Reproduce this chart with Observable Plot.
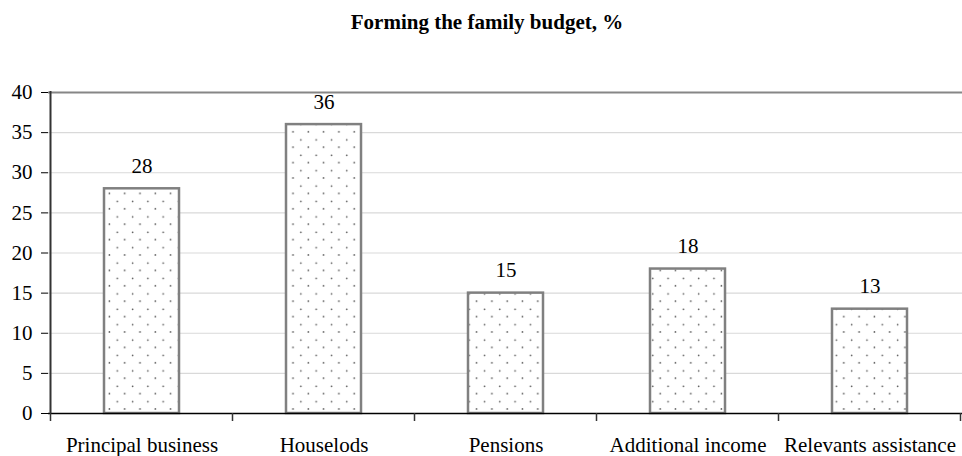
<!DOCTYPE html>
<html><head><meta charset="utf-8">
<script src="https://cdn.jsdelivr.net/npm/d3@7"></script>
<script src="https://cdn.jsdelivr.net/npm/@observablehq/plot@0.6"></script>
<style>
body{margin:0;background:#fff;}
#title{box-sizing:border-box;height:55px;padding-top:12px;padding-left:12px;width:962px;font-family:"Times New Roman","Liberation Serif",Times,serif;font-weight:bold;font-size:21px;line-height:21px;text-align:center;color:#000;}
#chart svg{display:block;}
#chart svg text{font-family:"Times New Roman","Liberation Serif",Times,serif;}
</style></head><body>
<div id="title">Forming the family budget, %</div>
<div id="chart"></div>
<script>
const categories = ["Principal business", "Houselods", "Pensions", "Additional income", "Relevants assistance"];
const values = [28, 36, 15, 18, 13];
const yTicks = [0, 5, 10, 15, 20, 25, 30, 35, 40];

const data = categories.map((c, i) => ({category: c, value: values[i]}));

const plot = Plot.plot({
  width: 962, height: 401,
  marginTop: 37, marginBottom: 43, marginLeft: 48, marginRight: 0,
  style: {fontFamily: '"Times New Roman", "Liberation Serif", Times, serif', fontSize: "21px", color: "#000", background: "#fff", overflow: "visible"},
  x: {domain: categories, paddingInner: 0.59, paddingOuter: 0.295, label: null, tickSize: 0, tickPadding: 24},
  y: {domain: [0, 40], ticks: yTicks, tickSize: 7, tickPadding: 9, label: null},
  marks: [
    Plot.ruleY(yTicks.filter(t => t > 0 && t < 40), {stroke: "#d9d9d9", strokeWidth: 1.2}),
    Plot.ruleY([40], {stroke: "#868686", strokeWidth: 2}),
    Plot.barY(data, {x: "category", y: "value", fill: "url(#dots)", stroke: "#808080", strokeWidth: 2.5}),
    Plot.text(data, {x: "category", y: "value", text: d => String(d.value), lineAnchor: "bottom", dy: -16, fontSize: 21, fill: "#000"}),
    Plot.ruleY([0], {stroke: "#000", strokeWidth: 1.5})
  ]
});

const svg = d3.select(plot);
svg.selectAll("g[aria-label$='axis'], g[aria-label$='tick label']").attr("font-size", 21);
const defs = svg.insert("defs", ":first-child");
const pat = defs.append("pattern").attr("id", "dots").attr("patternUnits", "userSpaceOnUse")
  .attr("x", 0).attr("y", -4).attr("width", 15.3).attr("height", 15.4);
pat.append("rect").attr("width", 15.3).attr("height", 15.4).attr("fill", "#fff");
pat.append("circle").attr("cx", 10.2).attr("cy", 11.9).attr("r", 0.85).attr("fill", "#555");
pat.append("circle").attr("cx", 2.3).attr("cy", 3.8).attr("r", 0.85).attr("fill", "#555");

const xs = plot.scale("x"), ys = plot.scale("y");
const step = xs.step, bw = xs.bandwidth;
const bounds = categories.map(c => xs.apply(c) + bw / 2 - step / 2);
bounds.push(xs.apply(categories[categories.length - 1]) + bw / 2 + step / 2);
const y0 = ys.apply(0), y40 = ys.apply(40);
const g = svg.append("g");
g.selectAll("line.tk").data(bounds).join("line")
  .attr("x1", d => d).attr("x2", d => d).attr("y1", y0).attr("y2", y0 + 8)
  .attr("stroke", "#333").attr("stroke-width", 1.5);
g.append("line").attr("x1", bounds[0]).attr("x2", bounds[0]).attr("y1", y40 - 1).attr("y2", y0)
  .attr("stroke", "#333").attr("stroke-width", 2);

document.getElementById("chart").appendChild(plot);
</script>
</body></html>
